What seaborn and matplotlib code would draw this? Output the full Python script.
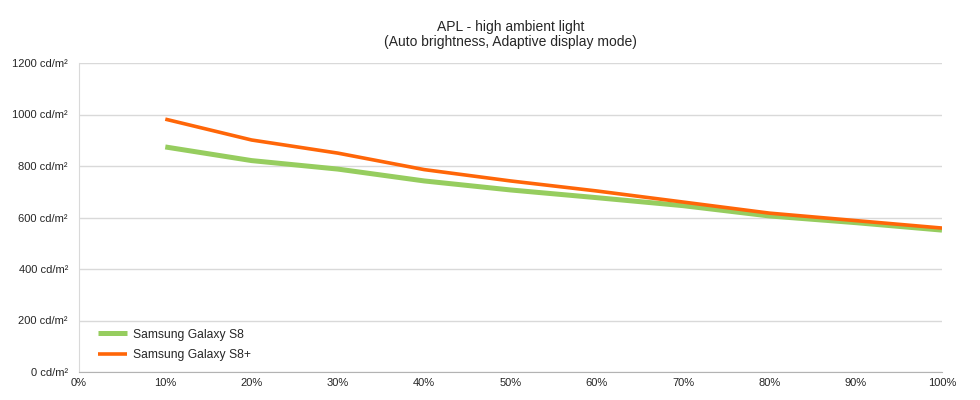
import pandas as pd
import matplotlib.pyplot as plt
import seaborn as sns
from matplotlib.ticker import FuncFormatter

# APL levels and measured luminance (cd/m²)
apl = [10, 20, 30, 40, 50, 60, 70, 80, 90, 100]
s8 = [874, 821, 788, 742, 707, 677, 646, 606, 580, 551]
s8_plus = [982, 901, 850, 786, 742, 703, 660, 617, 588, 559]
series_names = ['Samsung Galaxy S8', 'Samsung Galaxy S8+']
y_ticks = [0, 200, 400, 600, 800, 1000, 1200]
x_ticks = [0, 10, 20, 30, 40, 50, 60, 70, 80, 90, 100]

df = pd.DataFrame({
    'apl': apl * 2,
    'lum': s8 + s8_plus,
    'device': [series_names[0]] * len(apl) + [series_names[1]] * len(apl),
})

sns.set_style('white')
plt.rcParams['font.family'] = ['Liberation Sans', 'DejaVu Sans']
plt.rcParams['lines.solid_capstyle'] = 'butt'

fig = plt.figure(figsize=(9.8, 4), dpi=100)
ax = fig.add_axes([0.0806, 0.07, 0.8806, 0.7725])

palette = {series_names[0]: '#96cd5f', series_names[1]: '#ff6608'}
sns.lineplot(data=df, x='apl', y='lum', hue='device', palette=palette,
             size='device', sizes={series_names[0]: 3.6, series_names[1]: 2.6},
             ax=ax, legend=True)

ax.set_xlim(0, 100)
ax.set_ylim(0, 1200)
ax.set_xticks(x_ticks)
ax.set_yticks(y_ticks)
ax.xaxis.set_major_formatter(FuncFormatter(lambda v, p: f'{int(v)}%'))
ax.yaxis.set_major_formatter(FuncFormatter(lambda v, p: f'{int(v)} cd/m²'))
ax.grid(axis='y', color='#d9d9d9', linewidth=1)
ax.set_axisbelow(True)
ax.tick_params(axis='y', length=6, color='#d9d9d9', labelsize=8, pad=2)
ax.tick_params(axis='x', length=0, labelsize=8, pad=4)
for s in ['top', 'right']:
    ax.spines[s].set_visible(False)
ax.spines['left'].set_color('#d9d9d9')
ax.spines['bottom'].set_color('#b3b3b3')
ax.set_xlabel('')
ax.set_ylabel('')

ax.set_title('APL - high ambient light\n(Auto brightness, Adaptive display mode)',
             fontsize=10, pad=12, linespacing=1.1)

handles, labels = ax.get_legend_handles_labels()
ax.legend(handles=handles, labels=labels, loc='lower left', frameon=False,
          bbox_to_anchor=(0.01, 0.0), fontsize=8.7, handlelength=2.4,
          handletextpad=0.45, labelspacing=0.7)

fig.savefig('out.png', dpi=100)
